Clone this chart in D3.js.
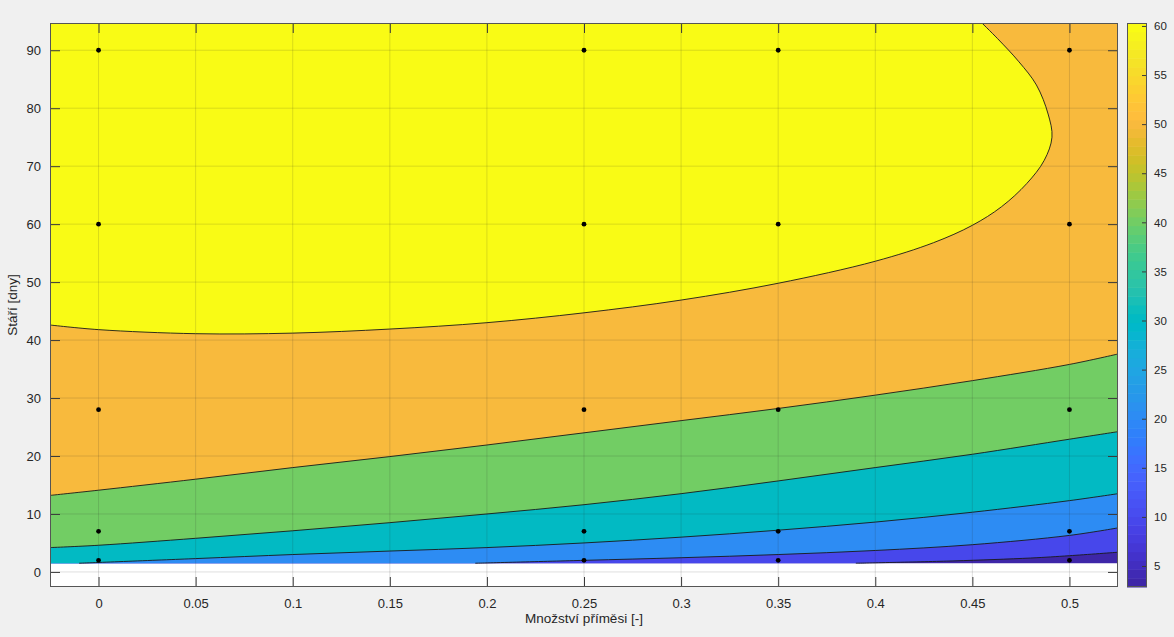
<!DOCTYPE html>
<html>
<head>
<meta charset="utf-8">
<script src="https://cdn.jsdelivr.net/npm/d3@7"></script>
<style>
  body { margin: 0; background: #f0f0f0; }
  text { font-family: "Liberation Sans", Arial, sans-serif; fill: #262626; }
</style>
</head>
<body>
<script>
// Chart values
var xTicks = [0, 0.05, 0.1, 0.15, 0.2, 0.25, 0.3, 0.35, 0.4, 0.45, 0.5];
var yTicks = [0, 10, 20, 30, 40, 50, 60, 70, 80, 90];
var cbTicks = [5, 10, 15, 20, 25, 30, 35, 40, 45, 50, 55, 60];
var levels = [10, 20, 30, 40, 50, 60];
var colorRange = [2.86, 60.3];
var dataBottom = 1.5;

// measured points (množství, stáří)
var sampleX = [0, 0.25, 0.35, 0.5];
var sampleY = [2, 7, 28, 60, 90];

// contour lines [x, y]
var contour10 = [[0.39, 1.5], [0.44, 1.9], [0.48, 2.4], [0.5, 2.8], [0.525, 3.4]];
var contour20 = [[0.194, 1.5], [0.25, 2.0], [0.3, 2.45], [0.35, 3.0], [0.4, 3.7], [0.45, 4.7], [0.5, 6.3], [0.525, 7.6]];
var contour30 = [[-0.01, 1.5], [0.05, 2.3], [0.1, 3.0], [0.15, 3.6], [0.2, 4.2], [0.25, 5.0], [0.3, 6.0], [0.35, 7.2], [0.4, 8.6], [0.45, 10.3], [0.5, 12.3], [0.525, 13.5]];
var contour40 = [[-0.025, 4.2], [0, 4.6], [0.05, 5.8], [0.1, 7.1], [0.15, 8.5], [0.2, 10.0], [0.25, 11.6], [0.3, 13.5], [0.35, 15.7], [0.4, 18.0], [0.45, 20.3], [0.5, 22.9], [0.525, 24.2]];
var contour50 = [[-0.025, 13.2], [0, 14.1], [0.05, 16.0], [0.1, 18.0], [0.15, 19.9], [0.2, 21.9], [0.25, 24.0], [0.3, 26.1], [0.35, 28.2], [0.4, 30.5], [0.45, 33.0], [0.5, 35.8], [0.525, 37.6]];
var contour60 = [[-0.025, 42.6], [0, 41.8], [0.05, 41.1], [0.1, 41.2], [0.15, 41.9], [0.2, 43.0], [0.25, 44.7], [0.3, 46.9], [0.35, 49.8], [0.4, 53.6], [0.43, 56.8], [0.45, 59.8], [0.465, 63], [0.478, 67], [0.487, 71], [0.491, 75], [0.489, 79], [0.483, 84], [0.474, 88], [0.463, 92], [0.454, 95]];

// parula colormap (64)
var parula = [
  [0.2422,0.1504,0.6603],[0.2504,0.1650,0.7076],[0.2578,0.1818,0.7511],[0.2647,0.1978,0.7952],
  [0.2706,0.2147,0.8364],[0.2751,0.2342,0.8710],[0.2783,0.2559,0.8991],[0.2803,0.2782,0.9221],
  [0.2813,0.3006,0.9414],[0.2810,0.3228,0.9579],[0.2795,0.3447,0.9717],[0.2760,0.3667,0.9829],
  [0.2699,0.3892,0.9906],[0.2602,0.4123,0.9952],[0.2440,0.4358,0.9988],[0.2206,0.4603,0.9973],
  [0.1963,0.4847,0.9892],[0.1834,0.5074,0.9798],[0.1786,0.5289,0.9682],[0.1764,0.5499,0.9520],
  [0.1687,0.5703,0.9359],[0.1540,0.5902,0.9218],[0.1460,0.6091,0.9079],[0.1380,0.6276,0.8973],
  [0.1248,0.6459,0.8883],[0.1113,0.6630,0.8763],[0.0952,0.6798,0.8598],[0.0689,0.6948,0.8394],
  [0.0297,0.7082,0.8163],[0.0036,0.7203,0.7917],[0.0067,0.7312,0.7660],[0.0433,0.7411,0.7394],
  [0.0964,0.7500,0.7120],[0.1408,0.7584,0.6842],[0.1717,0.7670,0.6554],[0.1938,0.7758,0.6251],
  [0.2161,0.7843,0.5923],[0.2470,0.7918,0.5567],[0.2906,0.7973,0.5188],[0.3406,0.8008,0.4789],
  [0.3909,0.8029,0.4354],[0.4456,0.8024,0.3909],[0.5044,0.7993,0.3480],[0.5616,0.7942,0.3045],
  [0.6174,0.7876,0.2612],[0.6720,0.7793,0.2227],[0.7242,0.7698,0.1910],[0.7738,0.7598,0.1646],
  [0.8203,0.7498,0.1535],[0.8634,0.7406,0.1596],[0.9035,0.7330,0.1774],[0.9393,0.7288,0.2100],
  [0.9728,0.7298,0.2394],[0.9956,0.7434,0.2371],[0.9970,0.7659,0.2199],[0.9952,0.7893,0.2028],
  [0.9892,0.8136,0.1885],[0.9786,0.8386,0.1766],[0.9676,0.8639,0.1643],[0.9610,0.8890,0.1537],
  [0.9597,0.9135,0.1423],[0.9628,0.9373,0.1265],[0.9691,0.9606,0.1064],[0.9769,0.9839,0.0805]
].map(function(c) { return d3.rgb(c[0] * 255, c[1] * 255, c[2] * 255).formatHex(); });

var svgWidth = 1174, svgHeight = 637;
var plot = { left: 50, right: 1118, top: 23, bottom: 587 };
var cb = { left: 1127, right: 1147 };

var x = d3.scaleLinear().domain([-0.025, 0.525]).range([plot.left, plot.right]);
var y = d3.scaleLinear().domain([-2.6, 94.7]).range([plot.bottom, plot.top]);
var color = d3.scaleQuantize().domain(colorRange).range(parula);
var cbY = d3.scaleLinear().domain(colorRange).range([plot.bottom, plot.top]);

var svg = d3.select("body").append("svg")
  .attr("width", svgWidth)
  .attr("height", svgHeight);

svg.append("defs").append("clipPath").attr("id", "clip")
  .append("rect")
  .attr("x", plot.left).attr("y", plot.top)
  .attr("width", plot.right - plot.left).attr("height", plot.bottom - plot.top);

// axes background
svg.append("rect")
  .attr("x", plot.left).attr("y", plot.top)
  .attr("width", plot.right - plot.left).attr("height", plot.bottom - plot.top)
  .attr("fill", "#fff");

var chartGroup = svg.append("g").attr("clip-path", "url(#clip)");

var xMin = x.domain()[0], xMax = x.domain()[1], yTop = 100;

// lowest band
chartGroup.append("rect")
  .attr("x", plot.left)
  .attr("y", y(yTop))
  .attr("width", plot.right - plot.left)
  .attr("height", y(dataBottom) - y(yTop))
  .attr("fill", color(colorRange[0]));

var lineGen = d3.line().x(d => x(d[0])).y(d => y(d[1])).curve(d3.curveCatmullRom.alpha(0.5));

var contours = [contour10, contour20, contour30, contour40, contour50];
contours.forEach(function(pts, i) {
  var p = lineGen(pts);
  var fillPath = "M" + x(xMin) + "," + y(dataBottom) + "L" + p.slice(1) +
    "L" + x(xMax) + "," + y(yTop) + "L" + x(xMin) + "," + y(yTop) + "Z";
  chartGroup.append("path").attr("d", fillPath).attr("fill", color(levels[i]));
});

// top level (closed region)
var p60 = lineGen(contour60);
chartGroup.append("path")
  .attr("d", p60 + "L" + x(xMin) + "," + y(yTop) + "Z")
  .attr("fill", color(levels[5]));

// contour lines
contours.concat([contour60]).forEach(function(pts) {
  chartGroup.append("path")
    .attr("d", lineGen(pts))
    .attr("fill", "none")
    .attr("stroke", "#1a1a1a")
    .attr("stroke-width", 0.9);
});

// grid
chartGroup.selectAll(".gx").data(xTicks).enter().append("line")
  .attr("x1", d => x(d)).attr("x2", d => x(d))
  .attr("y1", plot.top).attr("y2", plot.bottom)
  .attr("stroke", "rgba(38,38,38,0.15)").attr("stroke-width", 1);
chartGroup.selectAll(".gy").data(yTicks).enter().append("line")
  .attr("y1", d => y(d)).attr("y2", d => y(d))
  .attr("x1", plot.left).attr("x2", plot.right)
  .attr("stroke", "rgba(38,38,38,0.15)").attr("stroke-width", 1);

// measured points
var samples = [];
sampleX.forEach(function(sx) { sampleY.forEach(function(sy) { samples.push([sx, sy]); }); });
chartGroup.selectAll(".pt").data(samples).enter().append("circle")
  .attr("cx", d => x(d[0])).attr("cy", d => y(d[1]))
  .attr("r", 2.4).attr("fill", "#000");

// axes with inward ticks
var axisColor = "#3a3a3a";
function styleAxis(g) {
  g.select(".domain").remove();
  g.selectAll(".tick line").attr("stroke", axisColor);
  g.selectAll(".tick text").style("font-size", "13px").attr("fill", "#404040");
}
svg.append("g").attr("transform", `translate(0,${plot.bottom})`)
  .call(d3.axisBottom(x).tickValues(xTicks).tickFormat(d3.format("")).tickSizeInner(-10).tickPadding(12))
  .call(styleAxis);
svg.append("g").attr("transform", `translate(0,${plot.top})`)
  .call(d3.axisTop(x).tickValues(xTicks).tickFormat("").tickSizeInner(-10))
  .call(styleAxis);
svg.append("g").attr("transform", `translate(${plot.left},0)`)
  .call(d3.axisLeft(y).tickValues(yTicks).tickSizeInner(-10).tickPadding(9))
  .call(styleAxis);
svg.append("g").attr("transform", `translate(${plot.right},0)`)
  .call(d3.axisRight(y).tickValues(yTicks).tickFormat("").tickSizeInner(-10))
  .call(styleAxis);

svg.append("rect")
  .attr("x", plot.left + 0.5).attr("y", plot.top + 0.5)
  .attr("width", plot.right - plot.left - 1).attr("height", plot.bottom - plot.top - 1)
  .attr("fill", "none").attr("stroke", "#555").attr("stroke-width", 1);

// axis titles
svg.append("text")
  .attr("x", (plot.left + plot.right) / 2).attr("y", 623)
  .attr("text-anchor", "middle").style("font-size", "13.5px")
  .text("Množství příměsi [-]");
svg.append("text")
  .attr("transform", `translate(17,${(plot.top + plot.bottom) / 2}) rotate(-90)`)
  .attr("text-anchor", "middle").style("font-size", "13.5px")
  .text("Stáří [dny]");

// colorbar
var cbSteps = d3.range(parula.length).map(function(i) {
  var step = (colorRange[1] - colorRange[0]) / parula.length;
  return [colorRange[0] + i * step, colorRange[0] + (i + 1) * step];
});
svg.append("g").selectAll("rect").data(cbSteps).enter().append("rect")
  .attr("x", cb.left)
  .attr("width", cb.right - cb.left)
  .attr("y", d => cbY(d[1]))
  .attr("height", d => cbY(d[0]) - cbY(d[1]) + 0.5)
  .attr("fill", d => color((d[0] + d[1]) / 2));

svg.append("g").attr("transform", `translate(${cb.right},0)`)
  .call(d3.axisRight(cbY).tickValues(cbTicks).tickSizeInner(-5).tickPadding(7))
  .call(function(g) {
    styleAxis(g);
    g.selectAll(".tick text").style("font-size", "11.5px");
  });

svg.append("rect")
  .attr("x", cb.left + 0.5).attr("y", plot.top + 0.5)
  .attr("width", cb.right - cb.left - 1).attr("height", plot.bottom - plot.top - 1)
  .attr("fill", "none").attr("stroke", "#555").attr("stroke-width", 1);
</script>
</body>
</html>
